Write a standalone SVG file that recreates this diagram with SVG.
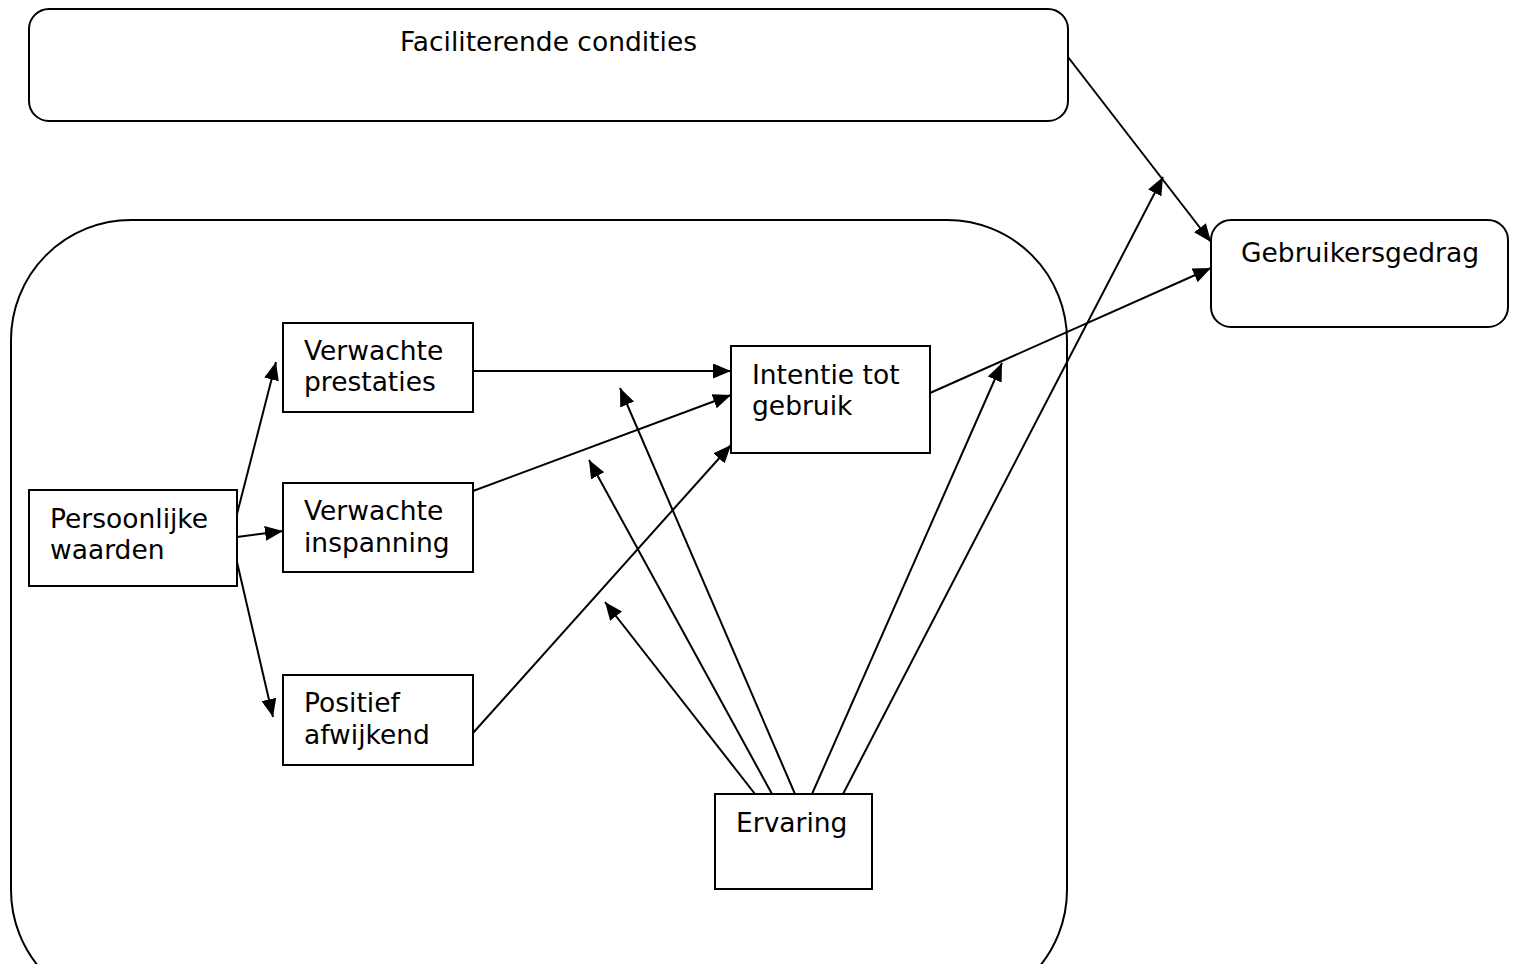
<svg xmlns="http://www.w3.org/2000/svg" width="1518" height="964" viewBox="0 0 1518 964">
<style>
.box{fill:#fff;stroke:#000;stroke-width:2}
.frame{fill:none;stroke:#000;stroke-width:2}
.lbl{font-family:"DejaVu Sans",Verdana,sans-serif;font-size:26.5px;fill:#000}
.edge{stroke:#000;stroke-width:2;fill:none;marker-end:url(#ah)}
</style>
<defs>
<marker id="ah" viewBox="0 0 18 15" refX="18" refY="7.5" markerWidth="18" markerHeight="15" markerUnits="userSpaceOnUse" orient="auto">
<path d="M0,0 L18,7.5 L0,15 z" fill="#000"/>
</marker>
</defs>
<rect width="1518" height="964" fill="#fff"/>
<g id="context">
<rect class="frame" x="11" y="220" width="1056" height="790" rx="120" ry="120"/>
</g>
<g id="connectors">
<line class="edge" x1="1068" y1="57" x2="1211" y2="242"/>
<line class="edge" x1="930" y1="393" x2="1211" y2="268"/>
<line class="edge" x1="843" y1="794" x2="1163" y2="177"/>
<line class="edge" x1="812" y1="794" x2="1002" y2="363"/>
<line class="edge" x1="795" y1="794" x2="620" y2="388"/>
<line class="edge" x1="772" y1="794" x2="589" y2="460"/>
<line class="edge" x1="755" y1="794" x2="605" y2="602"/>
<line class="edge" x1="237" y1="514" x2="276" y2="362"/>
<line class="edge" x1="237" y1="537" x2="283" y2="531"/>
<line class="edge" x1="237" y1="562" x2="273" y2="717"/>
<line class="edge" x1="473" y1="371" x2="731" y2="371"/>
<line class="edge" x1="473" y1="491" x2="731" y2="395"/>
<line class="edge" x1="473" y1="733" x2="731" y2="445"/>
</g>
<g id="faciliterende">
<rect class="box" x="29" y="9" width="1039" height="112" rx="20" ry="20"/>
<text class="lbl" x="400" y="51">Faciliterende condities</text>
</g>
<g id="gebruikersgedrag">
<rect class="box" x="1211" y="220" width="297" height="107" rx="20" ry="20"/>
<text class="lbl" x="1241" y="262">Gebruikersgedrag</text>
</g>
<g id="persoonlijke">
<rect class="box" x="29" y="490" width="208" height="96"/>
<text class="lbl" x="50" y="528">Persoonlijke</text>
<text class="lbl" x="50" y="559">waarden</text>
</g>
<g id="prestaties">
<rect class="box" x="283" y="323" width="190" height="89"/>
<text class="lbl" x="304" y="360">Verwachte</text>
<text class="lbl" x="304" y="391">prestaties</text>
</g>
<g id="inspanning">
<rect class="box" x="283" y="483" width="190" height="89"/>
<text class="lbl" x="304" y="520">Verwachte</text>
<text class="lbl" x="304" y="552">inspanning</text>
</g>
<g id="positief">
<rect class="box" x="283" y="675" width="190" height="90"/>
<text class="lbl" x="304" y="712">Positief</text>
<text class="lbl" x="304" y="744">afwijkend</text>
</g>
<g id="intentie">
<rect class="box" x="731" y="346" width="199" height="107"/>
<text class="lbl" x="752" y="384">Intentie tot</text>
<text class="lbl" x="752" y="415">gebruik</text>
</g>
<g id="ervaring">
<rect class="box" x="715" y="794" width="157" height="95"/>
<text class="lbl" x="736" y="832">Ervaring</text>
</g>
</svg>
